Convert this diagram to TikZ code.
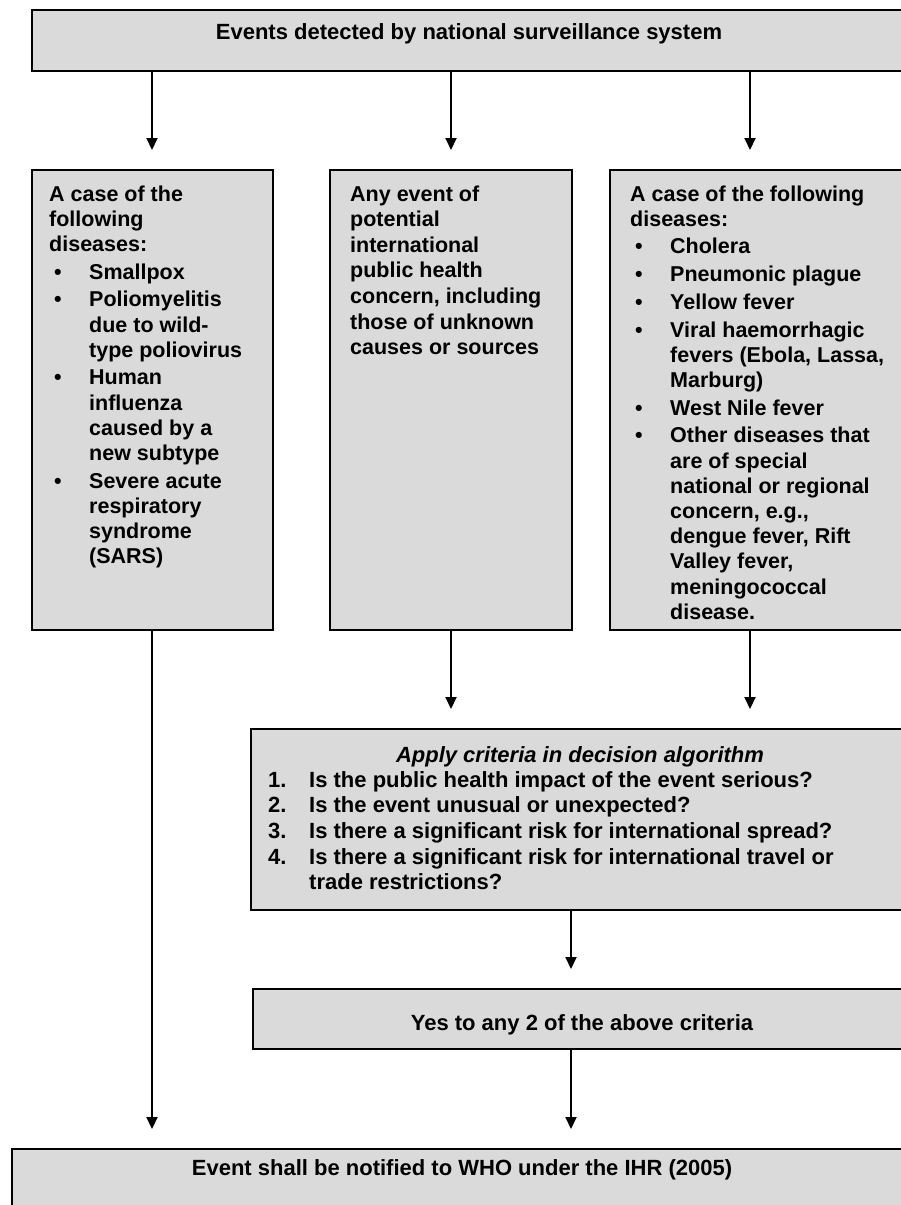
\documentclass[tikz,border=0pt]{standalone}
\usepackage{fontspec}
\setmainfont{Liberation Sans}
\usetikzlibrary{arrows.meta}
\definecolor{boxfill}{RGB}{218,218,218}
\newcommand\mybul{\makebox[40pt][l]{\hspace{5pt}\textbullet}}
\newcommand\myind{\hspace*{40pt}}
\newcommand\mynum[1]{\makebox[41pt][l]{#1}}
\begin{document}
\begin{tikzpicture}[x=1pt,y=-1pt,
  box/.style={draw=black, line width=2.8pt, fill=boxfill, inner sep=0pt, outer sep=0pt, anchor=north west},
  arr/.style={line width=2pt, -{Triangle[length=12pt,width=11pt]}, shorten >=20pt},
  listtxt/.style={inner sep=0pt, anchor=base west, font=\bfseries\fontsize{21.5}{25.2}\selectfont},
  linetxt/.style={inner sep=0pt, anchor=base, font=\bfseries\fontsize{22}{25.6}\selectfont}]
\useasboundingbox[fill=white] (0,0) rectangle (901,1205);

% boxes
\node[box, minimum width=876pt, minimum height=61pt] (top) at (32,10) {};
\node[box, minimum width=241pt, minimum height=460pt] (lbox) at (32,170) {};
\node[box, minimum width=242pt, minimum height=460pt] (mbox) at (330,170) {};
\node[box, minimum width=300pt, minimum height=460pt] (rbox) at (610,170) {};
\node[box, minimum width=660pt, minimum height=181pt] (crit) at (251,729) {};
\node[box, minimum width=658pt, minimum height=60pt] (yes) at (253,989) {};
\node[box, minimum width=900pt, minimum height=75pt] (bot) at (12,1149) {};

% texts
\node[linetxt] (toptxt) at (469,39.5) {Events detected by national surveillance system};

\node[listtxt] (ltxt) at (49,201) {\begin{tabular}[t]{@{}l@{}}
A case of the\\
following\\
diseases:\\[2.5pt]
\mybul Smallpox\\[2.5pt]
\mybul Poliomyelitis\\
\myind due to wild-\\
\myind type poliovirus\\[2.5pt]
\mybul Human\\
\myind influenza\\
\myind caused by a\\
\myind new subtype\\[2.5pt]
\mybul Severe acute\\
\myind respiratory\\
\myind syndrome\\
\myind (SARS)
\end{tabular}};

\node[listtxt, font=\bfseries\fontsize{21.5}{25.6}\selectfont] (mtxt) at (350,201) {\begin{tabular}[t]{@{}l@{}}
Any event of\\
potential\\
international\\
public health\\
concern, including\\
those of unknown\\
causes or sources
\end{tabular}};

\node[listtxt] (rtxt) at (630,201) {\begin{tabular}[t]{@{}l@{}}
A case of the following\\
diseases:\\[2.5pt]
\mybul Cholera\\[2.5pt]
\mybul Pneumonic plague\\[2.5pt]
\mybul Yellow fever\\[2.5pt]
\mybul Viral haemorrhagic\\
\myind fevers (Ebola, Lassa,\\
\myind Marburg)\\[2.5pt]
\mybul West Nile fever\\[2.5pt]
\mybul Other diseases that\\
\myind are of special\\
\myind national or regional\\
\myind concern, e.g.,\\
\myind dengue fever, Rift\\
\myind Valley fever,\\
\myind meningococcal\\
\myind disease.
\end{tabular}};

\node[linetxt, font=\bfseries\itshape\fontsize{22}{25.6}\selectfont] (crittitle) at (580,762) {Apply criteria in decision algorithm};
\node[listtxt, font=\bfseries\fontsize{22}{25.7}\selectfont] (crittxt) at (268,787) {\begin{tabular}[t]{@{}l@{}}
\mynum{1.}Is the public health impact of the event serious?\\
\mynum{2.}Is the event unusual or unexpected?\\
\mynum{3.}Is there a significant risk for international spread?\\
\mynum{4.}Is there a significant risk for international travel or\\
\mynum{}trade restrictions?
\end{tabular}};

\node[linetxt] (yestxt) at (582,1030) {Yes to any 2 of the above criteria};
\node[linetxt] (bottxt) at (462,1175.5) {Event shall be notified to WHO under the IHR (2005)};

% arrow columns
\coordinate (xl) at (152,0);
\coordinate (xm) at (451,0);
\coordinate (xr) at (750,0);
\coordinate (xc) at (571,0);

\draw[arr] (top.south -| xl) -- (lbox.north -| xl);
\draw[arr] (top.south -| xm) -- (mbox.north -| xm);
\draw[arr] (top.south -| xr) -- (rbox.north -| xr);
\draw[arr] (lbox.south -| xl) -- (bot.north -| xl);
\draw[arr] (mbox.south -| xm) -- (crit.north -| xm);
\draw[arr] (rbox.south -| xr) -- (crit.north -| xr);
\draw[arr] (crit.south -| xc) -- (yes.north -| xc);
\draw[arr] (yes.south -| xc) -- (bot.north -| xc);
\end{tikzpicture}
\end{document}
